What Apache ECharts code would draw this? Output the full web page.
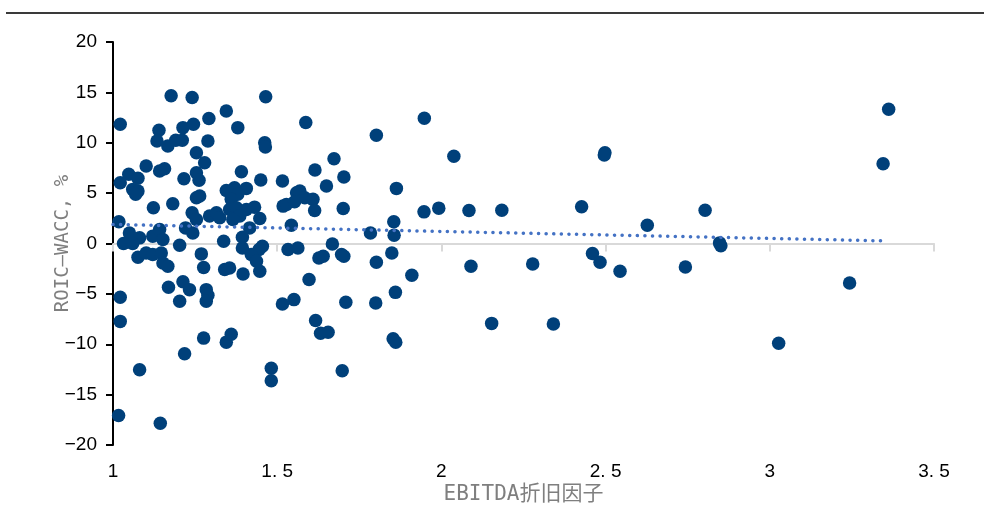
<!DOCTYPE html>
<html>
<head>
<meta charset="utf-8">
<script src="https://cdn.jsdelivr.net/npm/echarts@6/dist/echarts.min.js"></script>
<style>
  html, body { margin: 0; padding: 0; background: #fff; }
  #chart { width: 984px; height: 510px; }
</style>
</head>
<body>
<div id="chart"></div>
<script>
// Company observations: [EBITDA depreciation factor, ROIC - WACC (%)]
const points = [
  [1.177,14.66],[1.241,14.49],[1.465,14.56],[1.022,11.84],[1.345,13.16],[1.292,12.40],
  [1.140,11.24],[1.213,11.50],[1.245,11.84],[1.380,11.50],[1.134,10.18],[1.167,9.68],
  [1.191,10.25],[1.211,10.25],[1.289,10.18],[1.462,10.01],[1.464,9.58],[1.254,9.01],
  [1.279,8.02],[1.101,7.69],[1.142,7.19],[1.157,7.42],[1.048,6.87],[1.076,6.47],
  [1.022,6.03],[1.060,5.37],[1.076,5.20],[1.069,4.88],[1.216,6.43],[1.254,7.02],
  [1.262,6.27],[1.391,7.12],[1.450,6.30],[1.516,6.20],[1.123,3.54],[1.182,3.94],
  [1.254,4.54],[1.264,4.71],[1.345,5.27],[1.370,5.53],[1.406,5.47],[1.380,4.88],
  [1.360,4.38],[1.559,5.03],[1.518,3.71],[1.528,3.88],[1.241,3.04],[1.254,2.39],
  [1.294,2.72],[1.315,3.04],[1.325,2.55],[1.355,3.38],[1.376,3.54],[1.406,3.38],
  [1.431,3.61],[1.386,2.72],[1.365,2.39],[1.447,2.49],[1.543,1.82],[1.018,2.15],
  [1.050,1.05],[1.081,0.56],[1.121,0.73],[1.142,1.39],[1.152,0.40],[1.032,0.00],
  [1.060,0.00],[1.221,1.55],[1.243,1.05],[1.203,-0.17],[1.269,-1.03],[1.337,0.23],
  [1.416,1.55],[1.394,0.63],[1.455,-0.27],[1.445,-0.60],[1.394,-0.44],[1.421,-1.09],
  [1.437,-1.76],[1.447,-2.76],[1.533,-0.60],[1.563,-0.44],[1.076,-1.36],[1.101,-0.94],
  [1.121,-1.09],[1.147,-0.94],[1.152,-1.93],[1.167,-2.26],[1.276,-2.39],[1.340,-2.59],
  [1.355,-2.43],[1.396,-3.02],[1.213,-3.80],[1.169,-4.35],[1.233,-4.58],[1.203,-5.74],
  [1.284,-4.58],[1.289,-5.14],[1.284,-5.74],[1.516,-6.01],[1.551,-5.57],[1.022,-5.34],
  [1.022,-7.73],[1.276,-9.39],[1.345,-9.79],[1.360,-9.00],[1.218,-10.95],[1.081,-12.54],
  [1.482,-12.38],[1.482,-13.63],[1.017,-17.08],[1.144,-17.85],[1.587,12.00],[1.948,12.44],
  [1.802,10.75],[2.038,8.66],[1.673,8.42],[1.615,7.29],[1.703,6.60],[1.650,5.70],
  [1.863,5.47],[1.569,5.20],[1.584,4.54],[1.609,4.38],[1.553,4.14],[1.614,3.28],
  [1.701,3.48],[1.947,3.14],[1.992,3.51],[1.855,2.15],[1.784,1.05],[1.856,0.83],
  [1.668,-0.04],[1.696,-1.09],[1.703,-1.26],[1.627,-1.43],[1.640,-1.26],[1.849,-0.94],
  [1.802,-1.86],[1.597,-3.58],[1.910,-3.15],[1.709,-5.84],[1.800,-5.91],[1.860,-4.85],
  [1.617,-7.65],[1.632,-8.90],[1.655,-8.80],[1.853,-9.45],[1.861,-9.79],[1.698,-12.64],
  [2.498,9.01],[2.496,8.79],[3.362,13.33],[3.345,7.92],[2.084,3.28],[2.184,3.31],
  [2.427,3.64],[2.627,1.82],[2.803,3.31],[2.847,0.06],[2.851,-0.22],[2.090,-2.26],
  [2.278,-2.03],[2.460,-1.00],[2.483,-1.86],[2.544,-2.76],[2.743,-2.33],[3.243,-3.92],
  [2.153,-7.93],[2.341,-8.00],[3.027,-9.90]
];

// Linear trend line end points
const trendX = [1.0, 3.35];
const trendY = [1.89, 0.26];

// Axis ranges and tick steps
const xRange = [1, 3.5];
const xStep = 0.5;
const yRange = [-20, 20];
const yStep = 5;

const xName = 'EBITDA折旧因子';
const yName = 'ROIC—WACC, %';

const chart = echarts.init(document.getElementById('chart'), null, { renderer: 'canvas' });

const labelFont = 'Liberation Sans, Arial, sans-serif';
const nameFont = '"DejaVu Sans Mono", "Noto Sans CJK SC", monospace';

chart.setOption({
  animation: false,
  backgroundColor: '#ffffff',
  graphic: [{
    type: 'line',
    shape: { x1: 6, y1: 13, x2: 984, y2: 13 },
    style: { stroke: '#3a3a3a', lineWidth: 2 }
  }],
  grid: { left: 113, right: 50, top: 42, bottom: 58, containLabel: false },
  xAxis: [{
    type: 'value',
    min: xRange[0], max: xRange[1], interval: xStep,
    position: 'bottom',
    axisLine: { show: false, onZero: false },
    axisTick: { show: false },
    splitLine: { show: false },
    axisLabel: {
      margin: 17,
      color: '#000',
      fontSize: 19,
      fontFamily: labelFont,
      formatter: v => String(v).replace('.', '. ')
    },
    name: xName,
    nameLocation: 'middle',
    nameGap: 39,
    nameMoveOverlap: false,
    nameTextStyle: { color: '#7f7f7f', fontSize: 21, fontFamily: nameFont }
  }, {
    // zero reference line with its own ticks
    type: 'value',
    min: xRange[0], max: xRange[1], interval: xStep,
    position: 'bottom',
    axisLine: { show: true, onZero: true, lineStyle: { color: '#d9d9d9', width: 2 } },
    axisTick: { show: true, length: 8, lineStyle: { color: '#d9d9d9', width: 2 } },
    axisLabel: { show: false },
    splitLine: { show: false }
  }],
  yAxis: {
    type: 'value',
    min: yRange[0], max: yRange[1], interval: yStep,
    axisLine: { show: true, onZero: false, lineStyle: { color: '#000', width: 2 } },
    axisTick: { show: true, length: 7, lineStyle: { color: '#000', width: 2 } },
    splitLine: { show: false },
    axisLabel: {
      margin: 16,
      color: '#000',
      fontSize: 19,
      fontFamily: labelFont,
      formatter: v => String(v).replace('-', '\u2212')
    },
    name: yName,
    nameLocation: 'middle',
    nameGap: 40,
    nameMoveOverlap: false,
    nameTextStyle: { color: '#7f7f7f', fontSize: 19, fontFamily: nameFont }
  },
  series: [{
    type: 'scatter',
    xAxisIndex: 0,
    data: points,
    symbolSize: 13.5,
    itemStyle: { color: '#00407a', opacity: 1 },
    z: 3
  }, {
    type: 'line',
    xAxisIndex: 0,
    data: trendX.map((x, i) => [x, trendY[i]]),
    showSymbol: false,
    symbol: 'none',
    lineStyle: { color: '#4472c4', width: 3.5, type: [0.1, 7.5], cap: 'round' },
    z: 4
  }]
});
</script>
</body>
</html>
